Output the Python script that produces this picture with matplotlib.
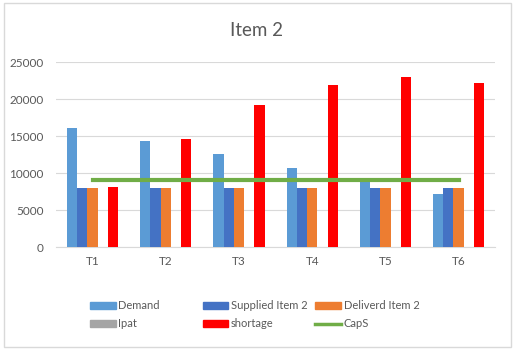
import matplotlib.pyplot as plt
import numpy as np
from matplotlib.patches import Patch, Rectangle
from matplotlib.lines import Line2D

periods = ['T1', 'T2', 'T3', 'T4', 'T5', 'T6']
demand = [16200, 14400, 12600, 10750, 8900, 7200]
supplied = [8000, 8000, 8000, 8000, 8000, 8000]
delivered = [8000, 8000, 8000, 8000, 8000, 8000]
ipat = [0, 0, 0, 0, 0, 0]
shortage = [8200, 14600, 19200, 22000, 23000, 22250]
caps = [9100, 9100, 9100, 9100, 9100, 9100]

plt.rcParams['font.family'] = ['Lato', 'DejaVu Sans']
txt = '#595959'

fig = plt.figure(figsize=(5.18, 3.49), dpi=100)
ax = fig.add_axes([0.108, 0.291, 0.848, 0.530])

x = np.arange(len(periods))
w = 0.14
series = [
    (demand, '#5B9BD5', 'Demand'),
    (supplied, '#4472C4', 'Supplied Item 2'),
    (delivered, '#ED7D31', 'Deliverd Item 2'),
    (ipat, '#A5A5A5', 'Ipat'),
    (shortage, '#FF0000', 'shortage'),
]
for i, (vals, col, lab) in enumerate(series):
    ax.bar(x + (i - 2) * w, vals, w, color=col, label=lab, zorder=3)
ax.plot(x, caps, color='#70AD47', lw=3, zorder=4, label='CapS')

ax.set_xlim(-0.5, 5.5)
ax.set_ylim(0, 25000)
ax.set_yticks(range(0, 25001, 5000))
ax.set_xticks(x)
ax.set_xticklabels(periods)
ax.grid(axis='y', color='#D9D9D9', lw=0.8, zorder=0)
for s in ['top', 'right', 'left']:
    ax.spines[s].set_visible(False)
ax.spines['bottom'].set_color('#D9D9D9')
ax.tick_params(length=0, colors=txt, labelsize=8.5)
ax.tick_params(axis='y', pad=9)
ax.tick_params(axis='x', pad=6)

fig.text(0.496, 0.913, 'Item 2', ha='center', va='center', fontsize=13.5, color=txt)

# legend: three columns of two rows each
cols = [
    [Patch(color='#5B9BD5', label='Demand'), Patch(color='#A5A5A5', label='Ipat')],
    [Patch(color='#4472C4', label='Supplied Item 2'), Patch(color='#FF0000', label='shortage')],
    [Patch(color='#ED7D31', label='Deliverd Item 2'), Line2D([], [], color='#70AD47', lw=2.5, label='CapS')],
]
xs = [0.174, 0.391, 0.609]
for xc, hs in zip(xs, cols):
    leg = fig.legend(handles=hs, loc='upper left', bbox_to_anchor=(xc, 0.14),
                     frameon=False, fontsize=8, handlelength=2.3, handleheight=0.55,
                     handletextpad=0.25, labelspacing=0.65, borderpad=0, borderaxespad=0)
    for t in leg.get_texts():
        t.set_color(txt)

fig.patches.append(Rectangle((0.008, 0.006), 0.978, 0.985, transform=fig.transFigure,
                             fill=False, edgecolor='#D9D9D9', lw=1))

fig.savefig('out.png', dpi=100)
